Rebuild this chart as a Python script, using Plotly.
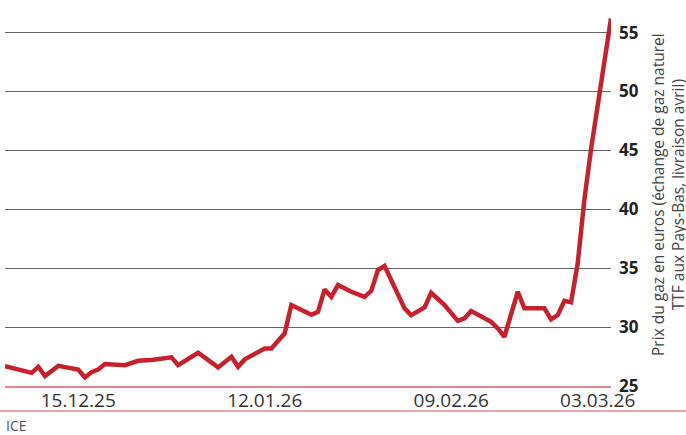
import plotly.graph_objects as go
import pandas as pd

start = pd.Timestamp("2025-12-04")
day_offsets = [0, 4, 5, 6, 8, 11, 12, 13, 14, 15, 18, 20, 22, 25, 26, 29, 32, 34, 35, 36,
               39, 40, 42, 43, 46, 47, 48, 49, 50, 52, 54, 55, 56, 57, 60, 61, 63, 64, 66,
               68, 69, 70, 73, 74, 75, 76, 77, 78, 81, 82, 83, 84, 85, 86, 87, 88, 89, 90, 91]
prices = [26.69, 26.12, 26.63, 25.84, 26.71, 26.40, 25.73, 26.18, 26.40, 26.86, 26.77, 27.14,
          27.20, 27.43, 26.77, 27.82, 26.58, 27.48, 26.63, 27.26, 28.19, 28.19, 29.47, 31.87,
          31.05, 31.30, 33.20, 32.57, 33.57, 33.00, 32.57, 33.08, 34.84, 35.18, 31.59, 31.02,
          31.67, 32.91, 31.87, 30.53, 30.74, 31.36, 30.45, 29.89, 29.18, 31.02, 33.00, 31.59,
          31.59, 30.65, 31.02, 32.23, 32.10, 35.40, 40.80, 45.10, 48.90, 52.60, 56.20]
dates = [(start + pd.Timedelta(days=d)).strftime("%Y-%m-%d") for d in day_offsets]

tick_dates = ["2025-12-15", "2026-01-12", "2026-02-09", "2026-03-03"]
tick_labels = ["15.12.25", "12.01.26", "09.02.26", "03.03.26"]
y_ticks = [25, 30, 35, 40, 45, 50, 55]

axis_title = "Prix du gaz en euros (échange de gaz naturel<br>TTF aux Pays-Bas, livraison avril)"
source = "ICE"

fig = go.Figure()
fig.add_trace(go.Scatter(
    x=dates, y=prices, mode="lines",
    line=dict(color="#c8202f", width=4.5, shape="linear"),
    hoverinfo="skip", cliponaxis=False,
))

W, H = 686, 435
L, R, T, B = 5, 75, 0, 49
pw = W - L - R
ph = H - T - B

fig.update_layout(
    template="none",
    width=W, height=H,
    margin=dict(l=L, r=R, t=T, b=B, pad=0, autoexpand=False),
    paper_bgcolor="white", plot_bgcolor="white",
    showlegend=False,
    font=dict(family="Open Sans", color="#333333"),
    xaxis=dict(
        type="date",
        range=["2025-12-04", "2026-03-05"],
        tickvals=tick_dates, ticktext=tick_labels,
        tickfont=dict(size=19, color="#333333", family="Open Sans"),
        showgrid=False, zeroline=False,
        showline=True, linecolor="#e0868c", linewidth=1.5,
        ticks="", ticklabelstandoff=-3,
        automargin=False,
        fixedrange=True,
    ),
    yaxis=dict(
        side="right",
        range=[25, 25 + ph / 11.78],
        tickvals=y_ticks,
        ticktext=[str(v) for v in y_ticks],
        tickfont=dict(size=17, color="#222222", family="Open Sans", weight="bold"),
        showgrid=True, gridcolor="#666666", gridwidth=1,
        zeroline=False, showline=False,
        ticks="", ticklabelstandoff=7,
        automargin=False,
        fixedrange=True,
    ),
    shapes=[
        dict(type="line", xref="paper", yref="paper",
             x0=-L / pw, x1=(W - L) / pw,
             y0=-25 / ph, y1=-25 / ph,
             line=dict(color="#e0868c", width=1.5)),
    ],
    annotations=[
        dict(text=axis_title, xref="paper", yref="paper",
             x=(668 - L) / pw, y=(ph - 195) / ph,
             xanchor="center", yanchor="middle",
             textangle=-90, showarrow=False,
             font=dict(size=15.5, color="#444444", family="Open Sans")),
        dict(text=source, xref="paper", yref="paper",
             x=(4 - L) / pw, y=-(426 - ph) / ph,
             xanchor="left", yanchor="middle", showarrow=False,
             font=dict(size=14, color="#555555", family="Open Sans")),
    ],
)

fig.write_html(
    "out.html",
    config={"displayModeBar": False, "staticPlot": True},
    post_script="document.body.style.margin='0';document.body.style.overflow='hidden';",
)
